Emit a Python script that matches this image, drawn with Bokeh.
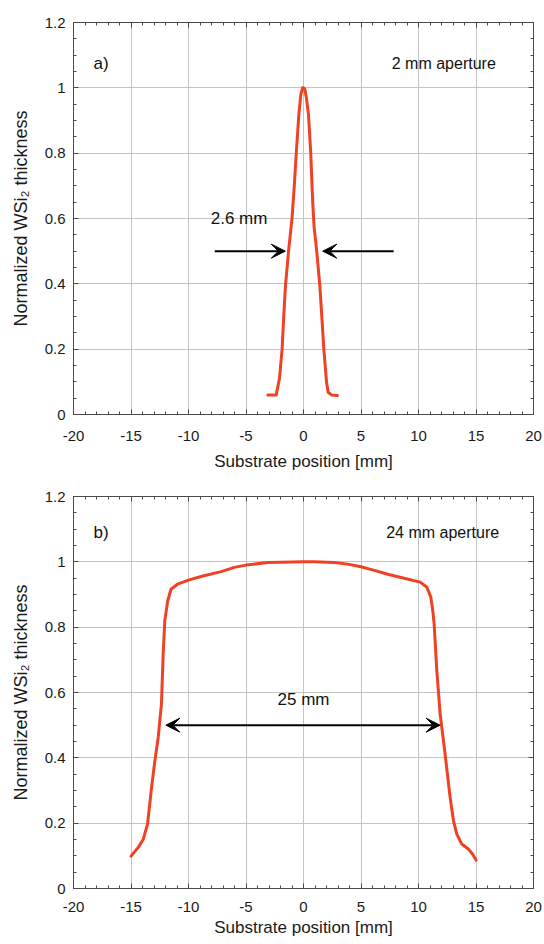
from bokeh.plotting import figure
from bokeh.layouts import column
from bokeh.models import (Range1d, FixedTicker, LinearAxis, Arrow, VeeHead, Label)
from bokeh.embed import file_html
from bokeh.resources import INLINE

# ---------------- data ----------------
x_ticks = [-20, -15, -10, -5, 0, 5, 10, 15, 20]
x_tick_labels = ["-20", "-15", "-10", "-5", "0", "5", "10", "15", "20"]
x_minor = list(range(-20, 21))
y_ticks = [0, 0.2, 0.4, 0.6, 0.8, 1.0, 1.2]
y_tick_labels = ["0", "0.2", "0.4", "0.6", "0.8", "1", "1.2"]
y_minor = [i * 0.05 for i in range(0, 25)]

# panel a: 2 mm aperture
a_x = [-3.1, -2.37, -2.09, -1.86, -1.72, -1.57, -1.3, -1.0, -0.8, -0.63, -0.4,
       -0.23, -0.08, 0.0, 0.12, 0.25, 0.43, 0.63, 0.8, 0.92, 1.15, 1.43, 1.77,
       2.0, 2.14, 2.43, 2.95]
a_y = [0.06, 0.06, 0.11, 0.2, 0.3, 0.393, 0.5, 0.6, 0.7, 0.8, 0.92,
       0.98, 1.0, 1.0, 0.995, 0.97, 0.92, 0.8, 0.65, 0.575, 0.5, 0.39, 0.2,
       0.1, 0.068, 0.06, 0.058]

# panel b: 24 mm aperture
b_x = [-15.0, -14.37, -13.93, -13.56, -13.21, -12.92, -12.63, -12.35, -12.2,
       -12.06, -11.81, -11.52, -10.94, -10.01, -8.91, -7.17, -6.01, -5.0,
       -3.12, -1.96, 0.01, 0.94, 2.68, 3.84, 5.0, 6.16, 7.32, 8.48, 10.15,
       10.72, 11.07, 11.24, 11.36, 11.59, 11.88, 12.31, 12.75, 13.04, 13.32,
       13.76, 14.33, 14.71, 15.0]
b_y = [0.099, 0.126, 0.151, 0.198, 0.31, 0.392, 0.464, 0.566, 0.72,
       0.82, 0.88, 0.916, 0.932, 0.944, 0.955, 0.97, 0.983, 0.99,
       0.998, 0.999, 1.0, 1.0, 0.998, 0.993, 0.985, 0.974, 0.962, 0.952, 0.938,
       0.923, 0.892, 0.851, 0.81, 0.668, 0.535, 0.412, 0.279, 0.208, 0.167,
       0.136, 0.121, 0.105, 0.087]

# annotations
a_arrow_left = (-7.72, -1.58, 0.5)   # x_start, x_end, y
a_arrow_right = (7.84, 1.67, 0.5)
a_width_label = ("2.6 mm", -5.6, 0.6)
a_panel_label = ("a)", -17.6, 1.075)
a_aperture = ("2 mm aperture", 12.2, 1.075)

b_arrow = (-11.97, 11.88, 0.5)
b_width_label = ("25 mm", 0.0, 0.58)
b_panel_label = ("b)", -17.6, 1.09)
b_aperture = ("24 mm aperture", 12.1, 1.09)

FONT = "Liberation Sans"
RED = "#ef4123"
FRAME = "#4a4a4a"
GRID = "#c4c4c4"


def style_axis(ax, show_labels, title_size="17px"):
    ax.axis_line_color = FRAME
    ax.axis_line_width = 1
    ax.major_tick_in = 5
    ax.major_tick_out = 0
    ax.minor_tick_in = 3
    ax.minor_tick_out = 0
    ax.major_tick_line_color = FRAME
    ax.minor_tick_line_color = FRAME
    ax.major_label_text_font = FONT
    ax.major_label_text_font_size = "15px"
    ax.major_label_text_color = "#1a1a1a" if show_labels else None
    ax.axis_label_text_font = FONT
    ax.axis_label_text_font_style = "normal"
    ax.axis_label_text_font_size = title_size
    ax.axis_label_text_color = "#1a1a1a"


def make_panel(height, top, bottom, xs, ys, lab_off, title_off):
    p = figure(width=544, height=height, output_backend="svg", toolbar_location=None,
               x_range=Range1d(-20, 20), y_range=Range1d(0, 1.2),
               min_border_left=73, min_border_right=11,
               min_border_top=top, min_border_bottom=bottom)
    p.outline_line_color = FRAME
    p.background_fill_color = "white"
    p.border_fill_color = "white"

    xt = FixedTicker(ticks=x_ticks, minor_ticks=x_minor)
    yt = FixedTicker(ticks=y_ticks, minor_ticks=y_minor)
    p.xaxis[0].ticker = xt
    p.yaxis[0].ticker = yt
    p.xgrid[0].ticker = xt
    p.ygrid[0].ticker = yt
    p.xgrid.grid_line_color = GRID
    p.ygrid.grid_line_color = GRID

    p.xaxis.axis_label = "Substrate position [mm]"
    p.yaxis.axis_label = "Normalized WSi\u2082 thickness"
    style_axis(p.xaxis[0], True)
    style_axis(p.yaxis[0], True, "18px")
    p.xaxis.major_label_standoff = lab_off
    p.xaxis.axis_label_standoff = title_off
    p.yaxis.major_label_standoff = 8
    p.yaxis.axis_label_standoff = 11
    p.xaxis.major_label_overrides = {t: l for t, l in zip(x_ticks, x_tick_labels)}
    p.yaxis.major_label_overrides = {t: l for t, l in zip(y_ticks, y_tick_labels)}

    top_ax = LinearAxis(ticker=xt)
    right_ax = LinearAxis(ticker=yt)
    style_axis(top_ax, False)
    style_axis(right_ax, False)
    top_ax.major_label_text_font_size = "0px"
    right_ax.major_label_text_font_size = "0px"
    top_ax.major_label_standoff = 0
    right_ax.major_label_standoff = 0
    p.add_layout(top_ax, "above")
    p.add_layout(right_ax, "right")

    p.line(xs, ys, line_color=RED, line_width=3, line_join="round", line_cap="round")
    return p


def add_label(p, spec, size="16px"):
    txt, x, y = spec
    p.add_layout(Label(x=x, y=y, text=txt, text_font=FONT, text_font_size=size,
                       text_color="#111111", text_align="center", text_baseline="middle"))


def vee():
    return VeeHead(size=14, fill_color="black", line_color="black", line_width=1)


pa = make_panel(478, 22, 64, a_x, a_y, 16, 8)
for xs_, xe_, y_ in (a_arrow_left, a_arrow_right):
    pa.add_layout(Arrow(end=vee(), x_start=xs_, y_start=y_, x_end=xe_, y_end=y_,
                        line_color="black", line_width=2))
add_label(pa, a_width_label, "17px")
add_label(pa, a_panel_label, "17px")
add_label(pa, a_aperture)

pb = make_panel(466, 18, 56, b_x, b_y, 13, 3)
pb.add_layout(Arrow(start=vee(), end=vee(), x_start=b_arrow[0], y_start=b_arrow[2],
                    x_end=b_arrow[1], y_end=b_arrow[2], line_color="black", line_width=2))
add_label(pb, b_width_label, "17px")
add_label(pb, b_panel_label, "17px")
add_label(pb, b_aperture)

layout = column(pa, pb, spacing=0)
open("out.html", "w").write(file_html(layout, INLINE))
